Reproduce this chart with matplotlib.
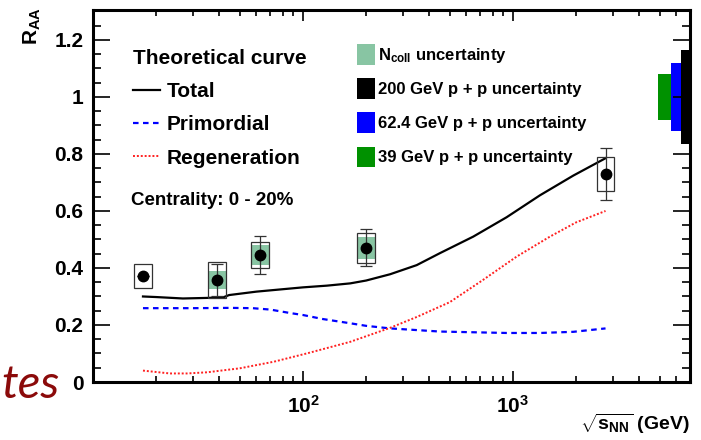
import math
import matplotlib
matplotlib.use("Agg")
import matplotlib.pyplot as plt
from matplotlib.patches import Rectangle, Patch
from matplotlib.lines import Line2D
from matplotlib.ticker import FixedLocator, LogLocator, MultipleLocator, FuncFormatter, NullFormatter

# ---- style (ROOT-like, bold Helvetica look) ----
plt.rcParams['font.family'] = ['Liberation Sans', 'DejaVu Sans']
plt.rcParams['font.weight'] = 'bold'
plt.rcParams['axes.labelweight'] = 'bold'
plt.rcParams['mathtext.fontset'] = 'custom'
plt.rcParams['mathtext.rm'] = 'Liberation Sans:bold'
plt.rcParams['mathtext.bf'] = 'Liberation Sans:bold'
plt.rcParams['mathtext.it'] = 'Liberation Sans:bold'
plt.rcParams['mathtext.default'] = 'bf'

# ---- data ----
energy = [17.3, 39, 62.4, 200, 2760]
raa = [0.372, 0.358, 0.446, 0.471, 0.730]
stat_err = [0.0, 0.057, 0.067, 0.065, 0.092]
sys_err = [0.041, 0.062, 0.046, 0.053, 0.060]
ncoll_err = [0.0, 0.032, 0.035, 0.038, 0.0]

total_e = [17.3, 20, 26.8, 35, 41.7, 44.5, 60, 100, 130, 168, 200, 260, 348,
           449, 647, 933, 1345, 1937, 2760]
total_v = [0.300, 0.298, 0.293, 0.295, 0.297, 0.305, 0.317, 0.332, 0.338, 0.346,
           0.356, 0.378, 0.410, 0.452, 0.510, 0.578, 0.655, 0.724, 0.785]

prim_e = [17.3, 30, 45, 57.6, 70, 86.7, 100, 124, 168, 200, 260, 449, 933,
          1345, 1937, 2760]
prim_v = [0.259, 0.259, 0.260, 0.259, 0.254, 0.242, 0.235, 0.221, 0.206, 0.197,
          0.188, 0.177, 0.172, 0.172, 0.176, 0.188]

regen_e = [17.3, 23.2, 28, 34.9, 50, 72.5, 104, 168, 260, 348, 500, 720, 1042,
           1500, 2000, 2760]
regen_v = [0.040, 0.030, 0.030, 0.034, 0.048, 0.071, 0.100, 0.141, 0.190, 0.228,
           0.280, 0.358, 0.440, 0.510, 0.560, 0.600]

glob_names = ['200 GeV p + p uncertainty', '62.4 GeV p + p uncertainty', '39 GeV p + p uncertainty']
glob_err = [0.166, 0.120, 0.081]
glob_colors = ['black', '#0000ff', '#009100']
ncoll_color = '#88c5a3'

# ---- figure ----
fig = plt.figure(figsize=(7.01, 4.40), dpi=100)
ax = fig.add_axes([93 / 701, 1 - 382 / 440, 597 / 701, 372 / 440])
ax.set_xscale('log')
ax.set_xlim(10, 6970)
ax.set_ylim(0, 1.305)

# theory curves
ax.plot(total_e, total_v, color='black', lw=1.6, zorder=3)
ax.plot(prim_e, prim_v, color='#0000ff', lw=1.6, ls=(0, (2.5, 2)), zorder=3)
ax.plot(regen_e, regen_v, color='#ff2020', lw=1.4, ls=(0, (1, 1)), zorder=3)

# data: Ncoll fill, systematic boxes, stat errors, points
bw = 1.1
for x, y, s, n in zip(energy, raa, sys_err, ncoll_err):
    if n > 0:
        ax.add_patch(Rectangle((x / bw, y - n), x * bw - x / bw, 2 * n,
                               facecolor=ncoll_color, edgecolor='none', zorder=2))
    ax.add_patch(Rectangle((x / bw, y - s), x * bw - x / bw, 2 * s,
                           facecolor='none', edgecolor='#333333', lw=0.9, zorder=4))
ax.errorbar(energy, raa, yerr=stat_err, fmt='o', color='black', ms=7.5,
            ecolor='#333333', elinewidth=0.9, capsize=4, capthick=0.9, zorder=5)

# global p+p uncertainties at the right edge
yax = ax.get_yaxis_transform()
xedges = [0.985, 0.968, 0.947]
for i, (e, c) in enumerate(zip(glob_err, glob_colors)):
    x0 = xedges[i]
    x1 = 1.0 if i == 0 else xedges[i - 1]
    ax.add_patch(Rectangle((x0, 1 - e), x1 - x0, 2 * e, transform=yax,
                           facecolor=c, edgecolor='none', zorder=1, clip_on=False))

# ---- axes styling ----
for sp in ax.spines.values():
    sp.set_linewidth(2.2)
ax.xaxis.set_major_locator(FixedLocator([100, 1000]))
ax.xaxis.set_minor_locator(LogLocator(base=10, subs=range(2, 10)))
ax.xaxis.set_minor_formatter(NullFormatter())
ax.xaxis.set_major_formatter(FuncFormatter(lambda v, p: r'$10^{%d}$' % round(math.log10(v))))
ax.yaxis.set_major_locator(MultipleLocator(0.2))
ax.yaxis.set_minor_locator(MultipleLocator(0.05))
ax.yaxis.set_major_formatter(FuncFormatter(lambda v, p: '%g' % round(v, 2)))
ax.tick_params(axis='both', which='both', direction='in', top=True, right=True, width=1.2)
ax.tick_params(axis='y', which='major', length=12, labelsize=15, pad=7)
ax.tick_params(axis='y', which='minor', length=5.5)
ax.tick_params(axis='x', which='major', length=8, labelsize=15, pad=9)
ax.tick_params(axis='x', which='minor', length=4.5)

ax.set_ylabel(r'$R_{AA}$', fontsize=15, loc='top')
ax.yaxis.set_label_coords(-0.084, 1.008)
ax.set_xlabel(r'$\sqrt{s_{NN}}$ (GeV)', fontsize=14, loc='right')
ax.xaxis.set_label_coords(1.0, -0.08)

# ---- legends ----
h_curves = [Line2D([], [], color='black', lw=1.6),
            Line2D([], [], color='#0000ff', lw=1.6, ls=(0, (2.5, 2))),
            Line2D([], [], color='#ff2020', lw=1.4, ls=(0, (1, 1)))]
leg1 = ax.legend(h_curves, ['Total', 'Primordial', 'Regeneration'],
                 title='Theoretical curve', loc='upper left', bbox_to_anchor=(0.067, 0.895),
                 frameon=False, fontsize=15, title_fontproperties={'size': 15, 'weight': 'bold'},
                 alignment='left', handlelength=1.3, handletextpad=0.3, labelspacing=0.68,
                 borderpad=0, borderaxespad=0)
ax.add_artist(leg1)

h_unc = [Patch(facecolor=ncoll_color)] + [Patch(facecolor=c) for c in glob_colors]
ax.legend(h_unc, [r'N$_{coll}$ uncertainty'] + glob_names, loc='upper left',
          bbox_to_anchor=(0.442, 0.909), frameon=False, fontsize=12,
          handlelength=1.08, handleheight=1.55, handletextpad=0.2, labelspacing=0.8,
          borderpad=0, borderaxespad=0)

ax.text(0.064, 0.489, 'Centrality: 0 - 20%', transform=ax.transAxes,
        fontsize=13.5, va='center', ha='left')

# stray slide text at lower left
fig.text(0.002, 1 - 398 / 440, 'tes', color='#8b0a0a', fontsize=34, style='italic',
         weight='normal', family=['Lato', 'Open Sans', 'DejaVu Sans'], ha='left', va='baseline')

fig.savefig('out.png', dpi=100)
